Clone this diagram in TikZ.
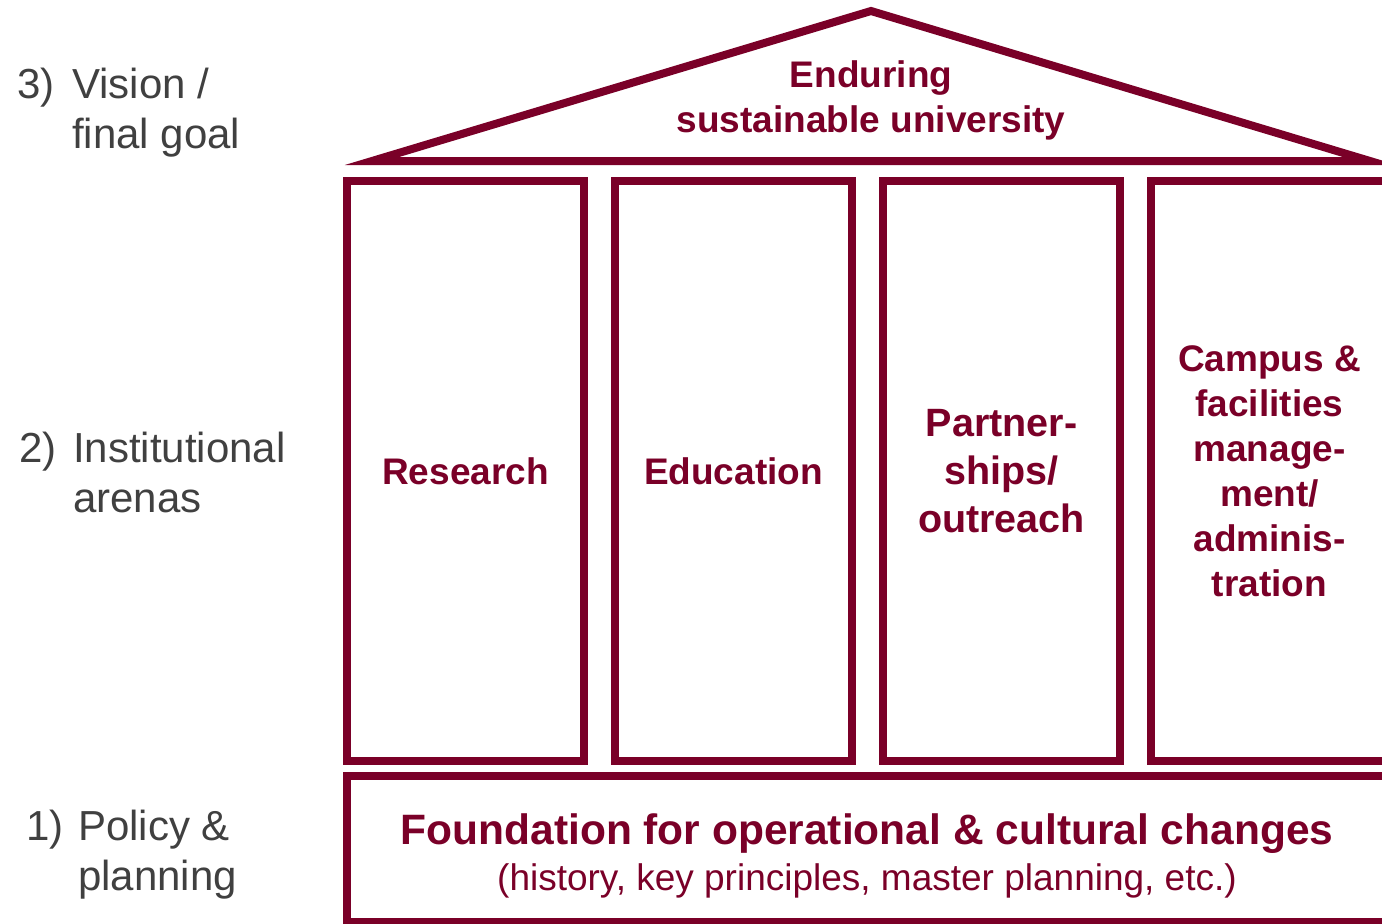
\documentclass[tikz,border=0pt]{standalone}
\usepackage{fontspec}
\setmainfont{Liberation Sans}
\definecolor{housered}{RGB}{122,0,40}
\definecolor{labelgray}{RGB}{64,64,64}

\begin{document}
\begin{tikzpicture}[x=1pt, y=-1pt,
    frame/.style={draw=housered, line width=8pt},
    pillar/.style={frame, minimum width=237pt, minimum height=580pt,
        inner sep=0pt, text=housered, align=center,
        font=\bfseries\fontsize{37}{45}\selectfont},
    level/.style={text=labelgray, inner sep=0pt, anchor=base west,
        align=left, font=\fontsize{42}{50}\selectfont}
]
    \useasboundingbox (0,0) rectangle (1382,924);
    % roof
    \draw[frame, miter limit=10] (372,161) -- (871,11) -- (1370,161) -- cycle;
    \node[text=housered, align=center, font=\bfseries\fontsize{37}{45}\selectfont]
        (goal) at (871,100) {Enduring\\sustainable university};
    % pillars
    \node[pillar] (research) at (465.5,471) {Research};
    \node[pillar] (education) at (733.5,471) {Education};
    \node[pillar, font=\bfseries\fontsize{39.5}{48}\selectfont]
        (partners) at (1001.5,471) {Partner-\\ships/\\outreach};
    \node[pillar] (campus) at (1269.5,471)
        {Campus \&\\facilities\\manage-\\ment/\\adminis-\\tration};
    % foundation
    \node[frame, minimum width=1053pt, minimum height=146pt] (base) at (873.5,849) {};
    \node[text=housered, align=center] (basetext) at (867,856)
        {\fontsize{42.5}{47}\selectfont\bfseries Foundation for operational \& cultural changes\\[10pt]
         \fontsize{37}{47}\selectfont (history, key principles, master planning, etc.)};
    % levels
    \node[level] (n3) at (17,98) {3)};
    \node[level] (l3) at (72,148) {Vision /\\final goal};
    \node[level] (n2) at (19,462) {2)};
    \node[level] (l2) at (73,512) {Institutional\\arenas};
    \node[level] (n1) at (26,840) {1)};
    \node[level] (l1) at (78,890) {Policy \&\\planning};
\end{tikzpicture}
\end{document}
